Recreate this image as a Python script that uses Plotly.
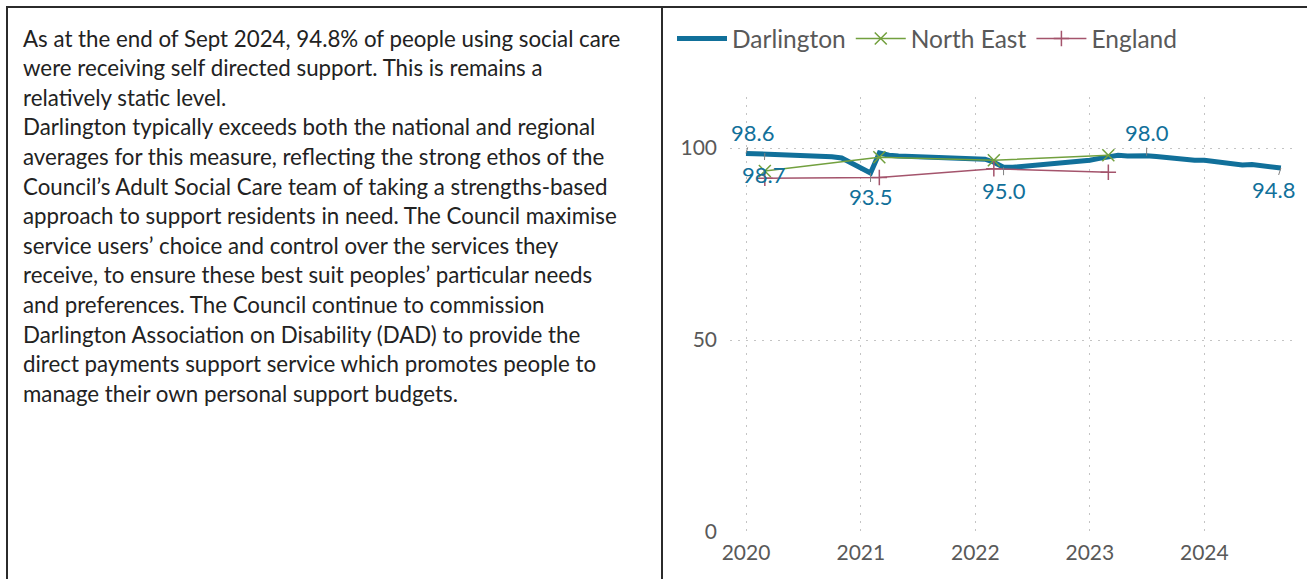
import plotly.graph_objects as go
import pandas as pd

# ---------------- data ----------------
darl_dates = pd.date_range("2020-01-01", "2024-09-01", freq="MS")
darl_values = [98.6, 98.5, 98.7, 98.3, 98.3, 98.2, 98.2, 98.1, 97.8, 97.7, 97.4, 96.1,
               94.7, 93.5, 98.7, 98.1, 97.9, 97.8, 97.7, 97.8, 97.5, 97.7, 97.6, 97.5,
               97.4, 97.1, 96.3, 95.0, 95.0, 95.2, 95.5, 95.6, 95.9, 96.0, 96.1, 96.3,
               96.8, 97.3, 97.7, 98.1, 97.9, 98.0, 98.0, 97.8, 97.5, 97.4, 96.8, 96.8,
               96.8, 96.5, 96.2, 96.0, 95.6, 95.7, 95.5, 95.2, 94.8]
ne_dates = ["2020-03-01", "2021-03-01", "2022-03-01", "2023-03-01"]
ne_values = [94.0, 97.6, 96.8, 98.1]
eng_dates = ["2020-03-01", "2021-03-01", "2022-03-01", "2023-03-01"]
eng_values = [92.1, 92.3, 94.6, 93.7]

label_dates = ["2020-01-01", "2020-03-01", "2021-02-01", "2022-04-01", "2023-07-01", "2024-09-01"]
label_values = [98.6, 98.7, 93.5, 95.0, 98.0, 94.8]
label_ax = [6, -1, 0, 0, 0, -7]
label_ay = [-21, 22, 24, 23, -23, 22]

x_ticks = ["2020-01-01", "2021-01-01", "2022-01-01", "2023-01-01", "2024-01-01"]
x_ticklabels = ["2020", "2021", "2022", "2023", "2024"]
y_ticks = [0, 50, 100]

text_lines = [
    "As at the end of Sept 2024, 94.8% of people using social care",
    "were receiving self directed support. This is remains a",
    "relatively static level.",
    "Darlington typically exceeds both the national and regional",
    "averages for this measure, reflecting the strong ethos of the",
    "Council\u2019s Adult Social Care team of taking a strengths-based",
    "approach to support residents in need. The Council maximise",
    "service users\u2019 choice and control over the services they",
    "receive, to ensure these best suit peoples\u2019 particular needs",
    "and preferences. The Council continue to commission",
    "Darlington Association on Disability (DAD) to provide the",
    "direct payments support service which promotes people to",
    "manage their own personal support budgets.",
]

# ---------------- styling ----------------
W, H = 1307, 579
PX0, PX1, PYT, PYB = 730, 1295, 97, 532
DARL = "#11709A"
NE = "#72A03E"
ENG = "#A4546C"
GREY = "#595959"
FONT = "Lato"
GRID = "#C4C4C4"

def px(x):
    return (x - PX0) / (PX1 - PX0)

def py(y):
    return (PYB - y) / (PYB - PYT)

fig = go.Figure()
fig.add_trace(go.Scatter(x=darl_dates, y=darl_values, name="Darlington", mode="lines",
                         line=dict(color=DARL, width=5)))
fig.add_trace(go.Scatter(x=ne_dates, y=ne_values, name="North East", mode="lines+markers",
                         line=dict(color=NE, width=1.5),
                         marker=dict(symbol="x-thin", size=12, line=dict(color=NE, width=1.5))))
fig.add_trace(go.Scatter(x=eng_dates, y=eng_values, name="England", mode="lines+markers",
                         line=dict(color=ENG, width=1.5),
                         marker=dict(symbol="cross-thin", size=11, line=dict(color=ENG, width=1.5))))

annotations = []
for d, v, ax, ay in zip(label_dates, label_values, label_ax, label_ay):
    annotations.append(dict(x=d, y=v, xref="x", yref="y", text=f"{v:.1f}",
                            showarrow=True, arrowhead=0, arrowwidth=1, arrowcolor="#808080",
                            ax=ax, ay=ay, standoff=0,
                            font=dict(family=FONT, size=22, color=DARL)))

line_top = 38
line_step = 29.6
for i, t in enumerate(text_lines):
    annotations.append(dict(x=px(21), y=py(line_top + i * line_step), xref="paper", yref="paper",
                            text=t, showarrow=False, xanchor="left", yanchor="middle",
                            font=dict(family=FONT, size=22.3, color="#222222")))

shapes = [
    dict(type="line", xref="paper", yref="paper", x0=px(6), x1=px(W), y0=py(7), y1=py(7),
         line=dict(color="#2b2b2b", width=2)),
    dict(type="line", xref="paper", yref="paper", x0=px(7), x1=px(7), y0=py(7), y1=py(H),
         line=dict(color="#2b2b2b", width=2)),
    dict(type="line", xref="paper", yref="paper", x0=px(662), x1=px(662), y0=py(7), y1=py(H),
         line=dict(color="#2b2b2b", width=2)),
]

fig.update_layout(
    width=W, height=H,
    margin=dict(l=PX0, r=W - PX1, t=PYT, b=H - PYB, pad=0),
    paper_bgcolor="white", plot_bgcolor="white",
    font=dict(family=FONT, color=GREY, size=20),
    showlegend=True,
    legend=dict(orientation="h", x=px(672), y=py(16), xanchor="left", yanchor="top",
                font=dict(family=FONT, size=24.5, color=GREY), itemwidth=50,
                bgcolor="rgba(0,0,0,0)", tracegroupgap=0),
    annotations=annotations,
    shapes=shapes,
    xaxis=dict(range=["2019-11-11", "2024-10-16"], tickvals=x_ticks, ticktext=x_ticklabels,
               showgrid=True, gridcolor=GRID, griddash="2px,6px", gridwidth=1,
               zeroline=False, showline=False, ticks="", ticklabelstandoff=6,
               tickfont=dict(size=21, color=GREY)),
    yaxis=dict(range=[0, (PYB - PYT) / 3.84], tickvals=y_ticks,
               showgrid=True, gridcolor=GRID, griddash="2px,6px", gridwidth=1,
               zeroline=False, showline=False, ticks="", ticklabelstandoff=12,
               tickfont=dict(size=21, color=GREY)),
)

fig.write_html("out.html", post_script="document.body.style.margin='0';",
               config={"displayModeBar": False})
